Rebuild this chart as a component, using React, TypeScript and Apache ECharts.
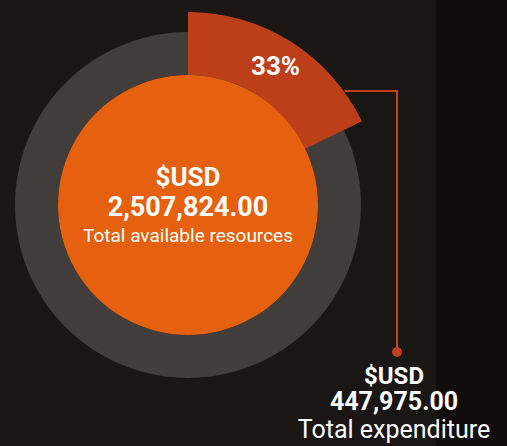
import React, { useEffect, useRef } from "react";
import * as echarts from "echarts";

const CATEGORIES = ["Total expenditure", "Remaining resources"];
const VALUES = [447975, 2059849];
const TOTAL_LABEL = "2,507,824.00";
const EXPENDITURE_LABEL = "447,975.00";
const PERCENT_LABEL = "33%";
const CENTER_CAPTION = "Total available resources";
const CURRENCY = "$USD";

export default function App() {
  const ref = useRef<HTMLDivElement>(null);
  useEffect(() => {
    document.body.style.margin = "0";
    if (!ref.current) return;
    const chart = echarts.init(ref.current, null, { renderer: "svg" });
    const font = "Roboto";
    const center = [188, 205];
    const data = CATEGORIES.map((name, i) => ({
      name,
      value: VALUES[i],
    }));
    chart.setOption({
      animation: false,
      backgroundColor: "#1a1614",
      graphic: [
        {
          type: "rect",
          z: -10,
          shape: { x: 436, y: 0, width: 80, height: 446 },
          style: { fill: "#110d0c" },
          silent: true,
        },
        {
          type: "circle",
          z: 100,
          shape: { cx: 397, cy: 352, r: 5 },
          style: { fill: "#c0411b" },
        },
      ],
      series: [
        {
          type: "pie",
          center,
          radius: [130, 173],
          silent: true,
          label: { show: false },
          labelLine: { show: false },
          itemStyle: { color: "#403d3b" },
          data: [{ name: "ring", value: VALUES[0] + VALUES[1] }],
          z: 1,
        },
        {
          type: "pie",
          center,
          radius: [130, 193],
          startAngle: 90,
          clockwise: true,
          silent: true,
          z: 2,
          data: data.map((d, i) => ({
            ...d,
            itemStyle: { color: i === 0 ? "#bd3f19" : "rgba(0,0,0,0)" },
            label: {
              show: i === 0,
              position: "inside",
              formatter: PERCENT_LABEL,
              color: "#ffffff",
              fontFamily: font,
              fontWeight: "bold",
              fontSize: 26,
            },
          })),
          labelLine: { show: false },
        },
        {
          type: "pie",
          center,
          radius: [130, 193],
          startAngle: 90,
          clockwise: true,
          silent: true,
          z: 3,
          itemStyle: { color: "rgba(0,0,0,0)" },
          data: data.map((d, i) => ({
            ...d,
            label: {
              show: i === 0,
              position: "outside",
              overflow: "none",
              formatter: `{a|${CURRENCY}}\n{b|${EXPENDITURE_LABEL}}\n{c|${d.name}}`,
              color: "#ffffff",
              fontFamily: font,
              rich: {
                a: { fontFamily: font, fontWeight: "bold", fontSize: 24, lineHeight: 26, color: "#ffffff", align: "center" },
                b: { fontFamily: font, fontWeight: "bold", fontSize: 25, lineHeight: 26, color: "#ffffff", align: "center" },
                c: { fontFamily: font, fontSize: 25, lineHeight: 29, color: "#ffffff", align: "center" },
              },
            },
            labelLine: {
              show: i === 0,
              lineStyle: { color: "#c0411b", width: 2 },
            },
          })),
          labelLayout: (params: any) => {
            if (params.dataIndex !== 0) return {};
            return {
              x: 394,
              y: 403,
              align: "center",
              verticalAlign: "middle",
              labelLinePoints: [
                [345, 91],
                [397, 91],
                [397, 352],
              ],
            };
          },
        },
        {
          type: "pie",
          center,
          radius: [0, 130],
          silent: true,
          z: 4,
          itemStyle: { color: "#e5600f" },
          labelLine: { show: false },
          data: [
            {
              name: CENTER_CAPTION,
              value: VALUES[0] + VALUES[1],
              label: {
                show: true,
                position: "center",
                formatter: `{a|${CURRENCY}}\n{b|${TOTAL_LABEL}}\n{c|${CENTER_CAPTION}}`,
                rich: {
                  a: { fontFamily: font, fontWeight: "bold", fontSize: 26, lineHeight: 30, color: "#ffffff", align: "center" },
                  b: { fontFamily: font, fontWeight: "bold", fontSize: 27, lineHeight: 30, color: "#ffffff", align: "center" },
                  c: { fontFamily: font, fontSize: 19, lineHeight: 26, color: "#ffffff", align: "center" },
                },
              },
            },
          ],
        },
      ],
    });
    return () => chart.dispose();
  }, []);
  return <div ref={ref} style={{ width: 507, height: 446 }} />;
}
